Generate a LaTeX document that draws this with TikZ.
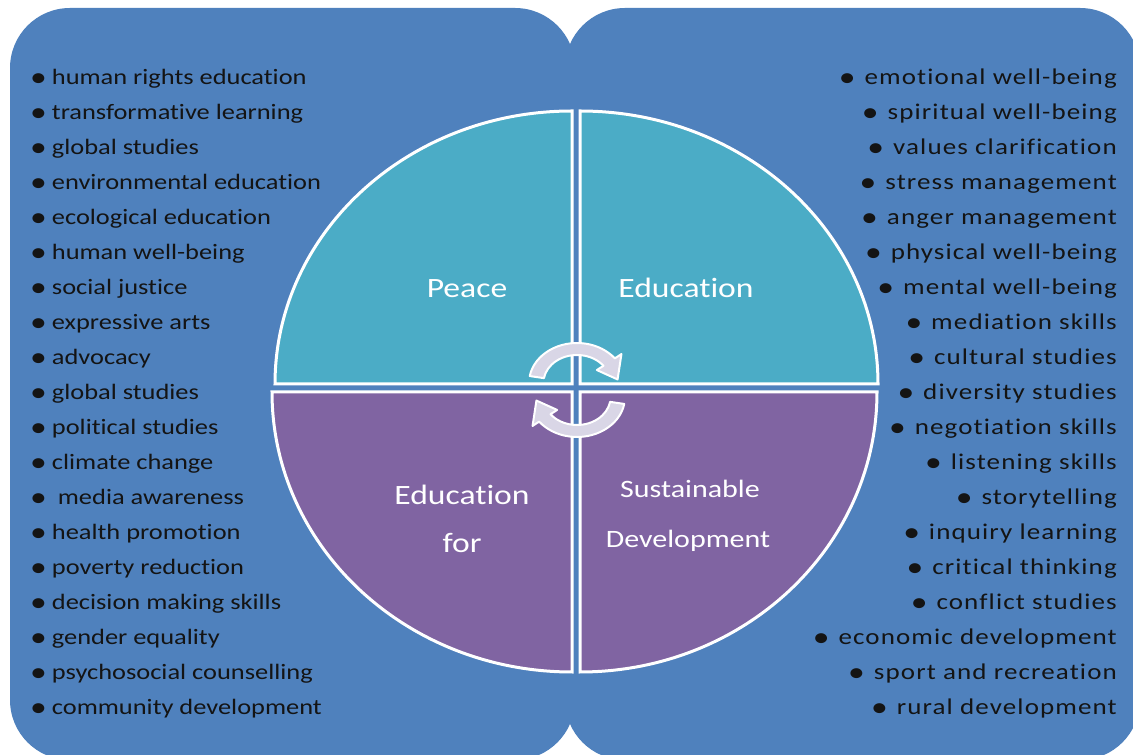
\documentclass[tikz,border=0pt]{standalone}
\usepackage{fontspec}
\setmainfont{Carlito}[FakeStretch=1.2,RawFeature={-liga}]
\newfontfamily\rightlistfont{Carlito}[FakeStretch=1.2,LetterSpace=5,RawFeature={-liga}]

\definecolor{panelblue}{HTML}{4F81BD}
\definecolor{quadteal}{HTML}{4BACC6}
\definecolor{quadpurple}{HTML}{8064A2}
\definecolor{arrowfill}{HTML}{D9D6E6}

\newcommand\itembullet[1][5pt]{\raisebox{-2pt}{\fontsize{28}{28}\selectfont\textbullet}\hspace{#1}}

\tikzset{
    panel/.style={fill=panelblue, rounded corners=60pt},
    quad/.style={draw=white, line width=3pt},
    quadlabel/.style={text=white, font=\fontsize{28}{30}\selectfont, anchor=base},
    devlabel/.style={quadlabel, font=\fontsize{25}{27}\selectfont},
    listitem/.style={text=black!92, font=\fontsize{22}{24}\selectfont, inner sep=0pt, anchor=base west},
    rightitem/.style={listitem, anchor=base east, font=\rightlistfont\fontsize{22.5}{24}\selectfont},
    turn/.style={fill=arrowfill, draw=white, line width=2pt, line join=round}
}

\begin{document}
\begin{tikzpicture}[x=1pt,y=1pt]
    \useasboundingbox (0,0) rectangle (1133,755);
    \clip (0,0) rectangle (1133,755);

    % two blue panels
    \fill[panel] (10,-5) rectangle (575,747);
    \fill[panel] (565,-5) rectangle (1140,747);

    % four quarters of the ellipse
    \filldraw[quad, fill=quadteal] (572,371) -- (572,644)
        arc[start angle=90, end angle=180, x radius=297, y radius=273] -- cycle;
    \filldraw[quad, fill=quadteal] (580,371) -- (878,371)
        arc[start angle=0, end angle=90, x radius=298, y radius=273] -- cycle;
    \filldraw[quad, fill=quadpurple] (572,363) -- (272,363)
        arc[start angle=180, end angle=270, x radius=300, y radius=280] -- cycle;
    \filldraw[quad, fill=quadpurple] (580,363) -- (580,83)
        arc[start angle=270, end angle=360, x radius=297, y radius=280] -- cycle;

    % circular arrows in the middle
    \begin{scope}[shift={(577,372)}, xscale=1.2]
        \filldraw[turn] (170:40) arc[start angle=170, end angle=38, radius=40]
            -- (38:47) -- (6:34) -- (38:21) -- (38:28)
            arc[start angle=38, end angle=170, radius=28] -- cycle;
    \end{scope}
    \begin{scope}[shift={(577,358)}, xscale=1.2]
        \filldraw[turn] (-10:40) arc[start angle=-10, end angle=-142, radius=40]
            -- (-142:47) -- (-174:34) -- (-142:21) -- (-142:28)
            arc[start angle=-142, end angle=-10, radius=28] -- cycle;
    \end{scope}

    \node[quadlabel] (peace) at (467,457) {Peace};
    \node[quadlabel] (educ) at (686,457) {Education};
    \node[quadlabel] (edufor) at (462,250) {Education};
    \node[quadlabel] (for) at (462,202) {for};
    \node[devlabel] (sust) at (690,257) {Sustainable};
    \node[devlabel] (devel) at (688,207) {Development};

    % left list
    \foreach \txt [count=\i] in {human rights education, transformative learning,
        global studies, environmental education, ecological education,
        human well-being, social justice, expressive arts, advocacy,
        global studies, political studies, climate change, {\ media awareness},
        health promotion, poverty reduction, decision making skills,
        gender equality, psychosocial counselling, community development}
        \node[listitem] (l\i) at (30,{670-35*(\i-1)}) {\itembullet\txt};

    % right list
    \foreach \txt [count=\i] in {emotional well-being, spiritual well-being,
        values clarification, stress management, anger management,
        physical well-being, mental well-being, mediation skills,
        cultural studies, diversity studies, negotiation skills,
        listening skills, storytelling, inquiry learning, critical thinking,
        conflict studies, economic development, sport and recreation,
        rural development}
        \node[rightitem] (r\i) at (1117,{670-35*(\i-1)}) {\itembullet[9pt]\txt};
\end{tikzpicture}
\end{document}
